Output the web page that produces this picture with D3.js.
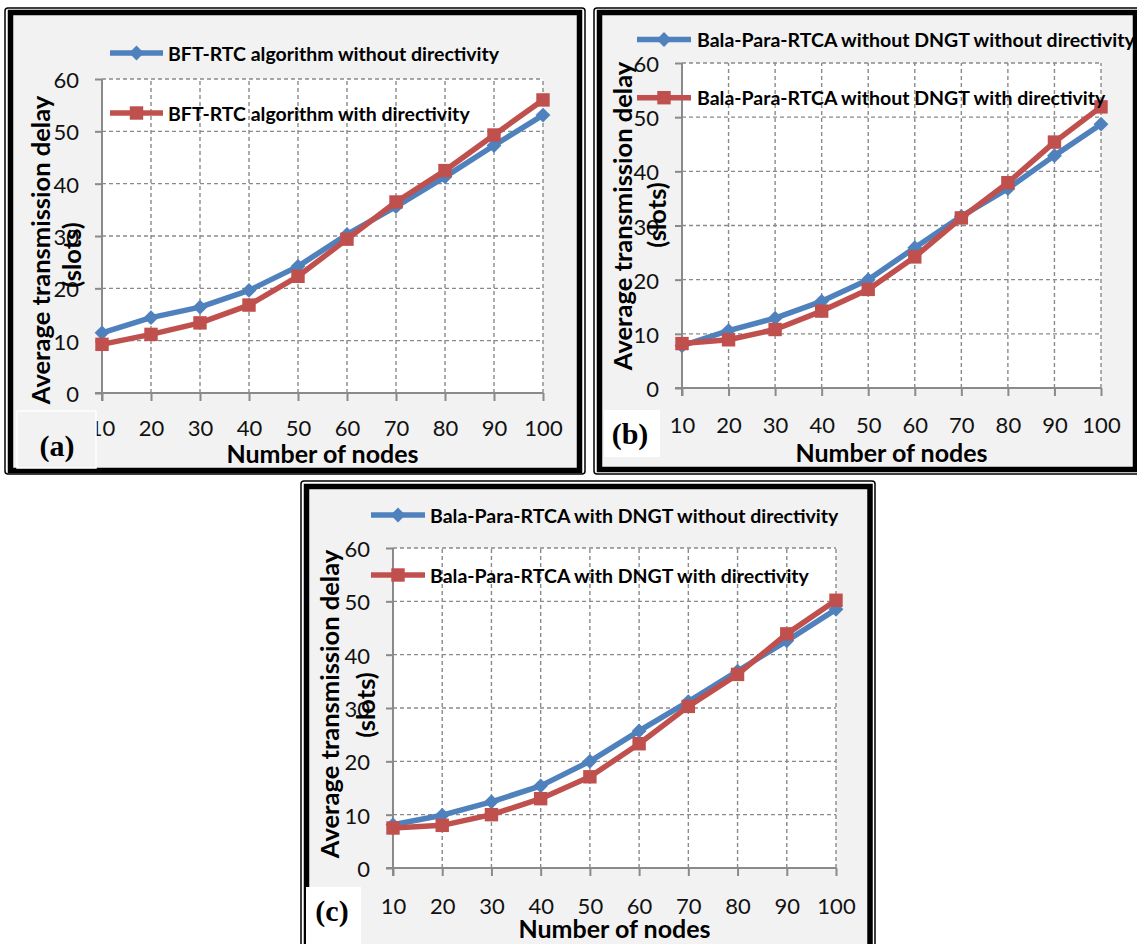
<!DOCTYPE html>
<html>
<head>
<meta charset="utf-8">
<script src="https://cdn.jsdelivr.net/npm/d3@7"></script>
<style>
  html, body { margin: 0; padding: 0; background: #ffffff; }
  svg { display: block; }
</style>
</head>
<body>
<svg id="chart" width="1137" height="944"></svg>
<script>
// ---------------- data ----------------
const nodes = [10, 20, 30, 40, 50, 60, 70, 80, 90, 100];
const yTicks = [0, 10, 20, 30, 40, 50, 60];

const aWithout = [11.5, 14.4, 16.4, 19.6, 24.2, 30.3, 35.6, 41.3, 47.3, 53.1];
const aWith    = [9.3, 11.2, 13.4, 16.8, 22.3, 29.4, 36.5, 42.5, 49.3, 56.0];

const bWithout = [7.8, 10.6, 12.9, 16.0, 20.0, 25.9, 31.7, 36.8, 42.9, 48.7];
const bWith    = [8.2, 8.9, 10.8, 14.2, 18.2, 24.2, 31.4, 37.9, 45.4, 51.9];

const cWithout = [8.1, 9.9, 12.4, 15.4, 20.0, 25.7, 31.2, 36.9, 42.6, 48.5];
const cWith    = [7.5, 8.0, 10.0, 13.0, 17.1, 23.3, 30.3, 36.3, 43.9, 50.2];

const aLegend = ["BFT-RTC algorithm without directivity", "BFT-RTC algorithm with directivity"];
const bLegend = ["Bala-Para-RTCA without DNGT without directivity", "Bala-Para-RTCA without DNGT with directivity"];
const cLegend = ["Bala-Para-RTCA with DNGT without directivity", "Bala-Para-RTCA with DNGT with directivity"];

const panelLabels = ["(a)", "(b)", "(c)"];
const yTitle = ["Average transmission delay", "(slots)"];
const xTitle = "Number of nodes";

// ---------------- style / layout ----------------
const BLUE = "#4f81bd", RED = "#c0504d";
const BG = "#f2f2f2";
const GRID = "#8a8a8a";
const FONT = "Lato, 'Open Sans', sans-serif";

const panels = [
  { frame: {x: 5, y: 8, r: 585, b: 474, tx: 10.5, ty: 12.5, tr: 579.5, tb: 470.5},
    x0: 102, x1: 543, y0: 393, y1: 79,
    series: [aWithout, aWith], legend: aLegend,
    leg: {x0: 110, x1: 163, xt: 168, y: [53, 113]},
    yt: {cx: 40, cy: 250, cx2: 71, cy2: 255},
    xl: 427, xtY: 453,
    box: {x: 17, y: 411, w: 79, h: 57, fill: BG, stroke: "#ffffff"}, lab: {x: 57, y: 445},
    label: panelLabels[0] },
  { frame: {x: 594, y: 8, r: 1140, b: 474, tx: 599.5, ty: 12.5, tr: 1135.5, tb: 469.5},
    x0: 682, x1: 1101, y0: 388, y1: 63,
    series: [bWithout, bWith], legend: bLegend,
    leg: {x0: 637, x1: 691, xt: 697, y: [39.5, 97.7]},
    yt: {cx: 622, cy: 216, cx2: 656, cy2: 215},
    xl: 424, xtY: 452,
    box: {x: 604, y: 410, w: 56, h: 47, fill: "#ffffff", stroke: "none"}, lab: {x: 630, y: 433},
    label: panelLabels[1] },
  { frame: {x: 301, y: 481, r: 875, b: 960, tx: 306.5, ty: 486.5, tr: 870, tb: 955},
    x0: 393, x1: 836, y0: 868, y1: 548,
    series: [cWithout, cWith], legend: cLegend,
    leg: {x0: 371, x1: 425, xt: 430, y: [515, 575]},
    yt: {cx: 329, cy: 704, cx2: 365, cy2: 705},
    xl: 905, xtY: 928,
    box: {x: 306, y: 887, w: 55, h: 60, fill: "#ffffff", stroke: "none"}, lab: {x: 332, y: 910},
    label: panelLabels[2] }
];

const svg = d3.select("#chart");
const colors = [BLUE, RED];
const symPath = (k) => k === 0
  ? d3.symbol().type(d3.symbolSquare).size(110)()
  : d3.symbol().type(d3.symbolSquare).size(180)();

panels.forEach((p) => {
  const g = svg.append("g");
  const f = p.frame;
  // frame
  g.append("rect").attr("x", f.x).attr("y", f.y).attr("width", f.r - f.x).attr("height", f.b - f.y)
    .attr("fill", "#ffffff").attr("stroke", "#000").attr("stroke-width", 1.5).attr("rx", 3);
  g.append("rect").attr("x", f.tx).attr("y", f.ty).attr("width", f.tr - f.tx).attr("height", f.tb - f.ty)
    .attr("fill", BG).attr("stroke", "#000").attr("stroke-width", 5.5);

  const x = d3.scaleLinear().domain([10, 100]).range([p.x0, p.x1]);
  const y = d3.scaleLinear().domain([0, 60]).range([p.y0, p.y1]);

  // plot area
  g.append("rect").attr("x", x(10)).attr("y", y(60)).attr("width", x(100) - x(10)).attr("height", y(0) - y(60))
    .attr("fill", "#ffffff");

  // gridlines
  g.append("g").selectAll("line").data(yTicks.filter(v => v > 0)).join("line")
    .attr("x1", x(10)).attr("x2", x(100)).attr("y1", d => y(d)).attr("y2", d => y(d))
    .attr("stroke", GRID).attr("stroke-width", 1.4).attr("stroke-dasharray", "4,3");
  g.append("g").selectAll("line").data(nodes.filter(v => v > 10)).join("line")
    .attr("x1", d => x(d)).attr("x2", d => x(d)).attr("y1", y(0)).attr("y2", y(60))
    .attr("stroke", GRID).attr("stroke-width", 1.4).attr("stroke-dasharray", "4,3");

  // axes
  const ax = g.append("g").attr("transform", `translate(0,${y(0)})`)
    .call(d3.axisBottom(x).tickValues(nodes).tickSize(8).tickSizeOuter(0));
  ax.select(".domain").attr("stroke", GRID).attr("stroke-width", 2).attr("d", `M${x(10) - 7},0H${x(100)}`);
  ax.selectAll(".tick line").attr("stroke", GRID).attr("stroke-width", 2);
  ax.selectAll(".tick text").attr("y", p.xl - y(0)).attr("dy", null)
    .attr("dominant-baseline", "central")
    .attr("font-family", FONT).attr("font-size", 22).attr("fill", "#111");

  const ay = g.append("g").attr("transform", `translate(${x(10)},0)`)
    .call(d3.axisLeft(y).tickValues(yTicks).tickSize(7).tickSizeOuter(0));
  ay.select(".domain").attr("stroke", GRID).attr("stroke-width", 2).attr("d", `M0,${y(0) + 8}V${y(60)}`);
  ay.selectAll(".tick line").attr("stroke", GRID).attr("stroke-width", 2);
  ay.selectAll(".tick text").attr("x", -23).attr("dy", null)
    .attr("dominant-baseline", "central")
    .attr("font-family", FONT).attr("font-size", 22).attr("fill", "#111");

  // series
  const line = d3.line().x((d, i) => x(nodes[i])).y(d => y(d));
  p.series.forEach((s, k) => {
    g.append("path").datum(s).attr("d", line).attr("fill", "none")
      .attr("stroke", colors[k]).attr("stroke-width", 5.5).attr("stroke-linejoin", "round");
    g.append("g").selectAll("path").data(s).join("path")
      .attr("d", symPath(k))
      .attr("transform", (d, i) => `translate(${x(nodes[i])},${y(d)})` + (k === 0 ? " rotate(45)" : ""))
      .attr("fill", colors[k]);
  });

  // axis titles
  g.append("text").attr("transform", `translate(${p.yt.cx},${p.yt.cy}) rotate(-90)`)
    .attr("text-anchor", "middle").attr("dominant-baseline", "central")
    .attr("font-family", FONT).attr("font-weight", "bold").attr("font-size", 25.5).attr("fill", "#000")
    .text(yTitle[0]);
  g.append("text").attr("transform", `translate(${p.yt.cx2},${p.yt.cy2}) rotate(-90)`)
    .attr("text-anchor", "middle").attr("dominant-baseline", "central")
    .attr("font-family", FONT).attr("font-weight", "bold").attr("font-size", 25.5).attr("fill", "#000")
    .text(yTitle[1]);
  g.append("text").attr("x", (p.x0 + p.x1) / 2).attr("y", p.xtY)
    .attr("text-anchor", "middle").attr("dominant-baseline", "central")
    .attr("font-family", FONT).attr("font-weight", "bold").attr("font-size", 25).attr("fill", "#000")
    .text(xTitle);

  // legend
  p.legend.forEach((name, k) => {
    const ly = p.leg.y[k];
    g.append("line").attr("x1", p.leg.x0).attr("x2", p.leg.x1).attr("y1", ly).attr("y2", ly)
      .attr("stroke", colors[k]).attr("stroke-width", 5.5);
    g.append("path")
      .attr("d", symPath(k))
      .attr("transform", `translate(${(p.leg.x0 + p.leg.x1) / 2},${ly})` + (k === 0 ? " rotate(45)" : ""))
      .attr("fill", colors[k]);
    g.append("text").attr("x", p.leg.xt).attr("y", ly).attr("dominant-baseline", "central")
      .attr("font-family", FONT).attr("font-weight", "bold").attr("font-size", 19.5).attr("fill", "#000")
      .text(name);
  });

  // panel label box
  g.append("rect").attr("x", p.box.x).attr("y", p.box.y).attr("width", p.box.w).attr("height", p.box.h)
    .attr("fill", p.box.fill).attr("stroke", p.box.stroke).attr("stroke-width", 1.5);
  g.append("text").attr("x", p.lab.x).attr("y", p.lab.y)
    .attr("text-anchor", "middle").attr("dominant-baseline", "central")
    .attr("font-family", "'Liberation Serif', 'Times New Roman', serif").attr("font-weight", "bold")
    .attr("font-size", 30).attr("fill", "#000")
    .text(p.label);
});
</script>
</body>
</html>
